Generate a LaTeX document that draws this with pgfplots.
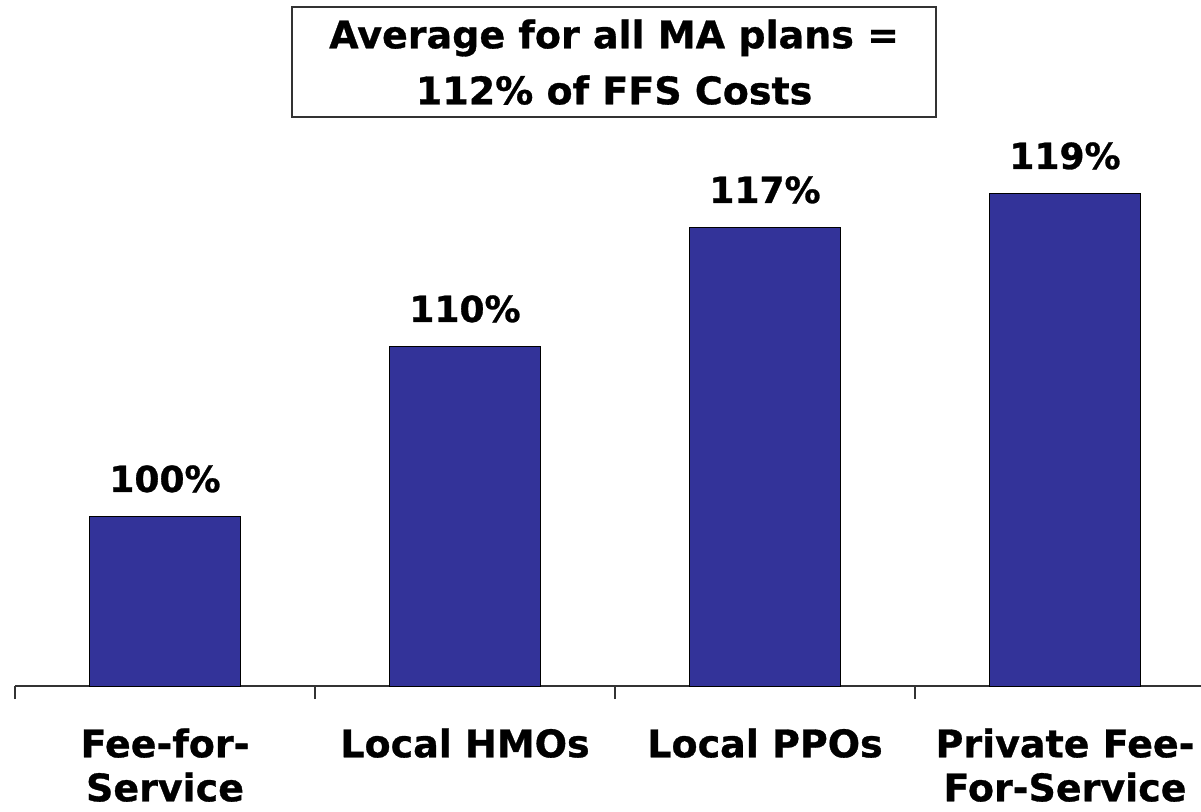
\documentclass[border=0pt]{standalone}
\usepackage{pgfplots}
\pgfplotsset{compat=1.18}
\usepackage{fontspec}
\setmainfont{DejaVu Sans}[BoldFeatures={FakeBold=0.8}]
\definecolor{barblue}{HTML}{333399}
\begin{document}
\begin{tikzpicture}
\begin{axis}[
  at={(0,0)}, anchor=south west,
  scale only axis, width=600pt, height=343pt,
  xmin=-0.5, xmax=3.5, ymin=90, ymax=130.353,
  axis x line=bottom, axis y line=none,
  axis line style={-, black!80, line width=0.7pt},
  xtick={0,1,2,3},
  xticklabels={{Fee-for-\\Service},{Local HMOs},{Local PPOs},{Private Fee-\\For-Service}},
  major tick length=0pt,
  minor xtick={-0.5,0.5,1.5,2.5,3.5},
  minor tick length=6.5pt,
  tick align=outside,
  tick style={black!80, line width=0.7pt},
  ytick=\empty,
  x tick label style={font=\bfseries\fontsize{19}{22}\selectfont, align=center, inner sep=0pt, yshift=-21pt},
  /pgf/number format/assume math mode=true,
  nodes near coords={\pgfmathprintnumber[fixed,precision=0]{\pgfplotspointmeta}\%},
  every node near coord/.append style={font=\bfseries\fontsize{18}{20}\selectfont, inner sep=0pt, anchor=south, yshift=11.5pt},
]
\addplot[ybar, bar width=75.5pt, fill=barblue, draw=black, line width=0.5pt] coordinates {(0,100) (1,110) (2,117) (3,119)};
\node[draw=black!80, line width=0.7pt, minimum width=322pt, minimum height=55pt, align=center,
  font=\bfseries\fontsize{19}{28}\selectfont, inner sep=0pt] at (axis cs:1.497,126.7)
  {Average for all MA plans =\\112\% of FFS Costs};
\end{axis}
\pgfresetboundingbox
\useasboundingbox (-7.5pt,-62.5pt) rectangle (593pt,343pt);
\end{tikzpicture}
\end{document}
